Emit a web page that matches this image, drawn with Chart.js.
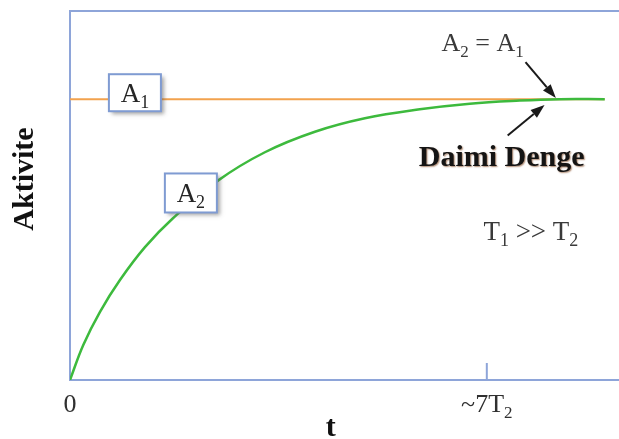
<!DOCTYPE html>
<html>
<head>
<meta charset="utf-8">
<title>Aktivite – t</title>
<script src="https://cdn.jsdelivr.net/npm/chart.js@4/dist/chart.umd.min.js"></script>
<style>
  html, body { margin: 0; padding: 0; background: #ffffff; }
  #wrap { width: 619px; height: 439px; }
</style>
</head>
<body>
<div id="wrap"><canvas id="c" width="619" height="439"></canvas></div>
<script>
// time axis in units of T2, activity relative to A1
const tValues  = [0, 0.223, 0.504, 0.839, 1.259, 1.729, 2.484, 3.273, 4.113, 4.952, 5.875, 6.715, 7.554, 8.226, 8.98];
const a2Values = [0, 0.125, 0.243, 0.356, 0.473, 0.576, 0.71, 0.811, 0.884, 0.932, 0.964, 0.984, 0.995, 1.0, 1.0];
const a1Times  = [0, 8.98];
const a1Values = [1, 1];
const xTickValues = [0, 7];
const xTickLabels = [[['0', false]], [['~7T', false], ['2', true]]];

const FRAME = '#8ea5d9';
const SERIF = '"Liberation Serif", "Times New Roman", serif';

// draws text made of normal and subscript pieces
function richText(ctx, parts, x, y, size, opts) {
  opts = opts || {};
  const weight = opts.bold ? 'bold ' : '';
  const subSize = Math.round(size * 0.66);
  let total = 0;
  const widths = parts.map(([t, sub]) => {
    ctx.font = weight + (sub ? subSize : size) + 'px ' + SERIF;
    const w = ctx.measureText(t).width;
    total += w;
    return w;
  });
  let cx = opts.align === 'left' ? x : x - total / 2;
  ctx.textBaseline = 'alphabetic';
  ctx.textAlign = 'left';
  ctx.fillStyle = opts.color || '#2b2b2b';
  parts.forEach(([t, sub], i) => {
    ctx.font = weight + (sub ? subSize : size) + 'px ' + SERIF;
    ctx.fillText(t, cx, sub ? y + size * 0.22 : y);
    cx += widths[i];
  });
}

function arrow(ctx, x1, y1, x2, y2) {
  const ang = Math.atan2(y2 - y1, x2 - x1);
  const head = 14, half = 5;
  const bx = x2 - head * Math.cos(ang), by = y2 - head * Math.sin(ang);
  ctx.save();
  ctx.strokeStyle = '#1a1a1a';
  ctx.fillStyle = '#1a1a1a';
  ctx.lineWidth = 2;
  ctx.beginPath();
  ctx.moveTo(x1, y1);
  ctx.lineTo(bx, by);
  ctx.stroke();
  ctx.beginPath();
  ctx.moveTo(x2, y2);
  ctx.lineTo(bx + half * Math.sin(ang), by - half * Math.cos(ang));
  ctx.lineTo(bx - half * Math.sin(ang), by + half * Math.cos(ang));
  ctx.closePath();
  ctx.fill();
  ctx.restore();
}

function labelBox(ctx, cx, cy, w, h, parts) {
  ctx.save();
  ctx.shadowColor = 'rgba(90,90,90,0.55)';
  ctx.shadowBlur = 4;
  ctx.shadowOffsetX = 3;
  ctx.shadowOffsetY = 3;
  ctx.fillStyle = '#ffffff';
  ctx.fillRect(cx - w / 2, cy - h / 2, w, h);
  ctx.restore();
  ctx.save();
  ctx.strokeStyle = '#7f9bd2';
  ctx.lineWidth = 2;
  ctx.strokeRect(cx - w / 2, cy - h / 2, w, h);
  ctx.restore();
  richText(ctx, parts, cx, cy + 9, 27, { color: '#262626' });
}

const annotations = {
  id: 'annotations',
  afterDraw(chart) {
    const ctx = chart.ctx;
    const xs = chart.scales.x, ys = chart.scales.y;
    const px = v => xs.getPixelForValue(v);
    const py = v => ys.getPixelForValue(v);
    const area = chart.chartArea;

    // tick mark at ~7T2
    ctx.save();
    ctx.strokeStyle = FRAME;
    ctx.lineWidth = 2;
    ctx.beginPath();
    ctx.moveTo(px(7), area.bottom);
    ctx.lineTo(px(7), area.bottom - 17);
    ctx.stroke();
    ctx.restore();

    // tick labels
    xTickValues.forEach((v, i) => {
      richText(ctx, xTickLabels[i], px(v), area.bottom + 32, 26, { color: '#303030' });
    });

    // axis titles
    richText(ctx, [['t', false]], px(4.38), area.bottom + 56, 30, { bold: true, color: '#111' });
    ctx.save();
    ctx.translate(33, 179);
    ctx.rotate(-Math.PI / 2);
    richText(ctx, [['Aktivite', false]], 0, 0, 30, { bold: true, color: '#111' });
    ctx.restore();

    // curve labels
    labelBox(ctx, px(1.09), py(1.023), 52, 37, [['A', false], ['1', true]]);
    labelBox(ctx, px(2.03), py(0.666), 52, 39, [['A', false], ['2', true]]);

    // equilibrium notes
    richText(ctx, [['A', false], ['2', true], [' = A', false], ['1', true]], px(6.93), py(1.171), 26, { color: '#3a3a3a' });
    arrow(ctx, px(7.65), py(1.132), px(8.16), py(1.004));
    arrow(ctx, px(7.35), py(0.871), px(7.97), py(0.979));
    ctx.save();
    ctx.shadowColor = 'rgba(120,60,20,0.6)';
    ctx.shadowBlur = 1.5;
    ctx.shadowOffsetX = 1;
    ctx.shadowOffsetY = 1;
    richText(ctx, [['Daimi Denge', false]], px(7.25), py(0.762), 30, { bold: true, color: '#141414' });
    ctx.restore();
    richText(ctx, [['T', false], ['1', true], [' >> T', false], ['2', true]], px(7.74), py(0.5), 27, { color: '#3a3a3a' });
  }
};

new Chart(document.getElementById('c'), {
  type: 'scatter',
  data: {
    datasets: [
      {
        label: 'A2',
        data: tValues.map((t, i) => ({ x: t, y: a2Values[i] })),
        showLine: true,
        borderColor: '#3dba3d',
        borderWidth: 2.5,
        pointRadius: 0,
        tension: 0.4,
        order: 0
      },
      {
        label: 'A1',
        data: a1Times.map((t, i) => ({ x: t, y: a1Values[i] })),
        showLine: true,
        borderColor: '#f2a24e',
        borderWidth: 2,
        pointRadius: 0,
        order: 1
      }
    ]
  },
  options: {
    responsive: false,
    animation: false,
    events: [],
    layout: { padding: { left: 70, top: 11, right: 0, bottom: 59 } },
    plugins: { legend: { display: false }, tooltip: { enabled: false } },
    scales: {
      x: {
        type: 'linear', position: 'bottom', min: 0, max: 9.22,
        ticks: { display: false },
        grid: { display: false, drawTicks: false },
        border: { display: true, color: FRAME, width: 2 }
      },
      xTop: {
        type: 'linear', position: 'top', min: 0, max: 9.22,
        ticks: { display: false },
        grid: { display: false, drawTicks: false },
        border: { display: true, color: FRAME, width: 2 }
      },
      y: {
        type: 'linear', min: 0, max: 1.314,
        ticks: { display: false },
        grid: { display: false, drawTicks: false },
        border: { display: true, color: FRAME, width: 2 }
      }
    }
  },
  plugins: [annotations]
});
</script>
</body>
</html>
